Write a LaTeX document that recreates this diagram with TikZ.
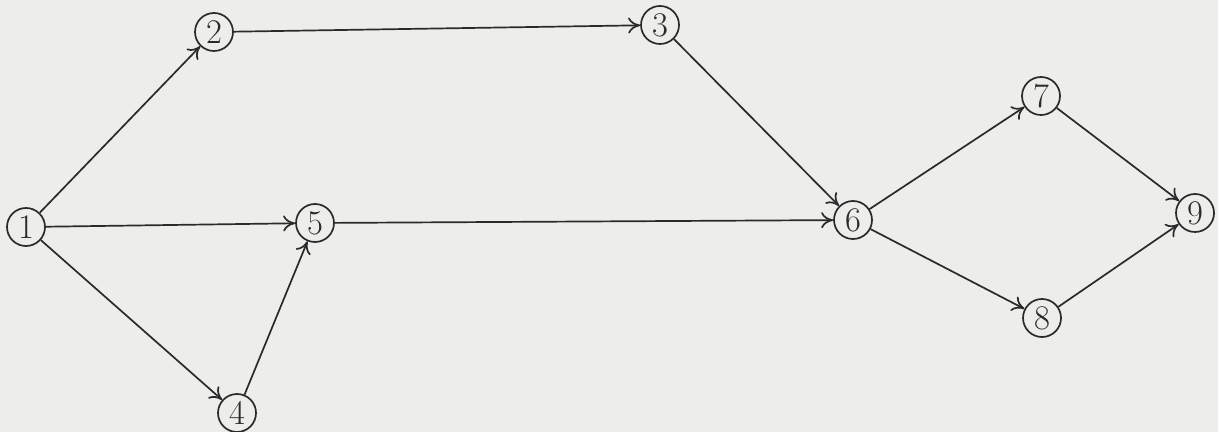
\documentclass[tikz,border=0pt]{standalone}
\usetikzlibrary{arrows.meta}
\definecolor{paper}{HTML}{EDEDEC}
\definecolor{ink}{HTML}{2A2A2A}
\begin{document}
\begin{tikzpicture}[x=0.5pt,y=-0.5pt,
  vtx/.style={circle,draw=ink,line width=0.85pt,minimum size=19pt,inner sep=0pt,font=\LARGE,text=ink},
  arr/.style={-{To[length=6pt,width=8pt]},draw=ink,line width=0.85pt}]
\fill[paper] (0,0) rectangle (1218,432);
\useasboundingbox (0,0) rectangle (1218,432);
\node[vtx] (n1) at (26,227) {1};
\node[vtx] (n2) at (214,32) {2};
\node[vtx] (n3) at (660,25) {3};
\node[vtx] (n4) at (237,413) {4};
\node[vtx] (n5) at (315,223) {5};
\node[vtx] (n6) at (853,220) {6};
\node[vtx] (n7) at (1041,96) {7};
\node[vtx] (n8) at (1042,318) {8};
\node[vtx] (n9) at (1195,213) {9};
\draw[arr] (n1) -- (n2);
\draw[arr] (n2) -- (n3);
\draw[arr] (n3) -- (n6);
\draw[arr] (n1) -- (n5);
\draw[arr] (n1) -- (n4);
\draw[arr] (n4) -- (n5);
\draw[arr] (n5) -- (n6);
\draw[arr] (n6) -- (n7);
\draw[arr] (n6) -- (n8);
\draw[arr] (n7) -- (n9);
\draw[arr] (n8) -- (n9);
\end{tikzpicture}
\end{document}
